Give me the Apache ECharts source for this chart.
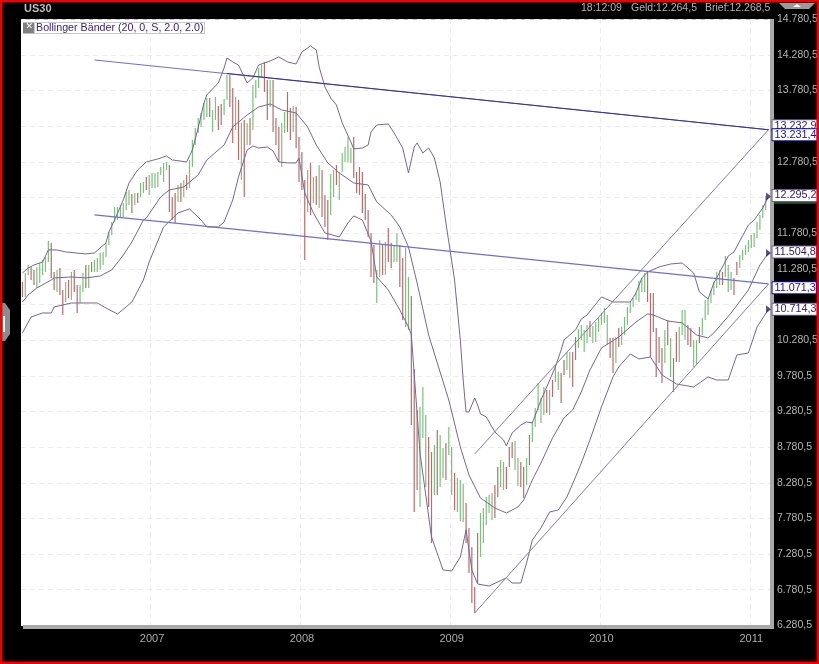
<!DOCTYPE html>
<html><head><meta charset="utf-8">
<style>html,body{margin:0;padding:0;background:#000}#c{width:819px;height:664px}</style>
<script src="https://cdn.jsdelivr.net/npm/echarts@6/dist/echarts.min.js"></script>
</head><body><div id="c"></div>
<script>
const barHigh=[11097,11223,11335,11307,11265,11307,11363,11405,11447,11672,11644,11237,11265,11293,10985,11097,11125,11237,11265,11055,
11055,11223,11335,11335,11377,11405,11433,11504,11518,11644,11798,11938,12149,12149,12177,12205,12359,12387,12331,12345,
12345,12485,12499,12570,12598,12626,12626,12640,12710,12766,12780,12738,12289,12345,12457,12485,12527,12598,12808,13088,
13257,13397,13467,13607,13678,13678,13509,13692,13565,13593,13664,14000,14000,13818,13692,13650,13327,13369,13327,13397,
13860,13930,14098,14140,14182,13930,13930,13930,13397,13271,13327,13481,13762,13537,13565,13551,13130,12920,12527,12668,
12766,12570,12584,12738,12668,12317,12247,12612,12668,12738,12640,12906,12990,13130,12976,13130,12640,12710,12640,12331,
12107,11784,11616,11265,11686,11616,11658,11854,11644,11616,11784,11616,11433,11574,11167,10901,9877,9302,9344,9624,
9232,8923,8713,8811,9021,8951,8769,8839,9063,8783,8418,8348,8320,8264,7997,7647,7380,6819,7577,7857,
7927,8081,8110,8138,8250,8502,8600,8572,8502,8783,8853,8867,8628,8572,8502,8628,8951,9133,9330,9680,
9470,9624,9582,9582,9722,9933,9835,9821,10003,10115,10115,10115,10325,10438,10494,10424,10494,10550,10480,10536,
10592,10662,10732,10634,10311,10311,10325,10452,10466,10606,10746,10816,10872,10943,11111,11153,11223,11237,10943,10943,
10452,10325,10171,10424,10564,10311,10031,10396,10466,10704,10704,10494,10452,10283,10283,10466,10592,10845,10872,10985,
11097,11237,11265,11237,11461,11335,11237,11153,11377,11475,11546,11616,11686,11756,11784,11938,12037,12177,12303];
const barLow=[10887,10887,11195,11125,11055,11013,11083,11195,11237,11377,11153,10985,10957,10915,10634,10816,10872,10845,10957,10662,
10802,10957,11013,11013,11237,11237,11237,11265,11335,11447,11616,11756,11938,11966,11994,12008,12107,12177,12065,12177,
12205,12289,12345,12387,12317,12415,12415,12429,12598,12499,12668,12079,11966,11925,12219,12219,12289,12387,12415,12710,
13018,13187,13271,13369,13411,13411,13201,13369,13229,13299,13439,13650,13551,13046,13229,12808,12527,12289,13018,13018,
13229,13678,13818,13958,13762,13369,13551,13201,13018,12780,12710,13187,13201,13088,13201,12976,12499,12387,11405,12079,
12037,12205,12177,12135,12008,11868,11686,12037,12289,12457,12247,12640,12780,12780,12766,12555,12345,12317,12065,11966,
11728,11167,11083,10802,11167,11195,11195,11377,11293,11377,11377,11027,10564,10466,10424,9091,7871,8180,7941,8909,
8222,7941,7436,8110,8110,8222,8348,8320,8670,8110,7899,7871,7745,7731,7436,7016,6595,6455,6876,7240,
7436,7689,7857,7759,7787,8081,8222,8180,8194,8502,8628,8460,8236,8222,8067,8250,8530,8853,9063,9302,
9119,9232,9260,9232,9484,9694,9582,9400,9792,9863,9751,9624,10003,10171,10283,10115,10241,10325,10241,10255,
10396,10494,10522,10213,10031,9821,9961,10185,10213,10354,10494,10662,10746,10845,10816,10957,10957,10816,10045,10396,
9765,9961,9681,9961,10213,9765,9554,9975,9975,10354,10283,10213,10185,9905,9933,10241,10354,10564,10634,10802,
10915,11013,11055,11055,11167,10957,10985,10915,11195,11293,11405,11475,11518,11574,11588,11714,11826,11994,12107];
const barTone=("dUUddUUUUUddUddUdUddUUdUdUUUUUUUUUUUUUdUdUUdUUUUUUUdddUdUdUUUUUUUdUUddUUddUdUdUdUUUUddUdddUUddUddddUdUdUdddUUdUUUUUdddddddd"+
"UUdUddUUddUUdddUUUddUdUUdUUdUUUddddd"+"UUUUUddUUdddUUddUdUUUUUdUdUUddUUddUUUUdUUUUUUddUdUUUUUUUUUddddddUdUddUUUddUUdUUUUUUUdUUUddUUUUUUUUUUUU").split("");
const upperBand=[[0,11223],[2,11293],[4,11335],[7,11377],[9,11546],[12,11546],[15,11518],[22,11490],[25,11504],[29,11644],[30,11798],[32,11966],[35,12247],[37,12485],[40,12668],[43,12780],[47,12822],[50,12864],[52,12808],[57,12780],[59,12948],[61,13257],[63,13607],[64,13720],[68,13888],[70,14098],[71,14238],[73,14182],[75,14140],[77,13972],[78,13888],[80,13958],[82,14140],[84,14168],[86,14196],[89,14253],[92,14182],[95,14154],[97,14323],[100,14407],[102,14351],[103,14112],[105,13832],[107,13678],[109,13579],[111,13327],[114,13060],[115,12962],[118,12976],[120,13018],[121,13201],[123,13299],[127,13313],[129,13187],[132,12976],[134,12626],[136,12990],[137,13046],[139,12906],[141,12976],[143,12836],[145,12499],[147,11925],[150,11125],[152,10283],[153,9722],[154,9274],[155,9274],[157,9470],[158,9372],[159,9246],[161,9204],[164,8993],[167,8881],[168,8797],[170,8979],[173,9091],[175,9133],[177,9119],[180,9442],[182,9624],[185,9905],[187,10143],[188,10283],[192,10424],[194,10578],[196,10634],[201,10887],[205,10816],[211,10816],[213,10943],[215,11153],[217,11237],[221,11307],[225,11349],[229,11363],[233,11223],[235,10957],[238,10858],[240,11083],[241,11153],[245,11461],[247,11518],[252,11896],[254,11966],[257,12135],[259,12295.2]];
const middleBand=[[0,10816],[2,10915],[5,11013],[10,11125],[11,11153],[17,11167],[22,11153],[27,11181],[31,11265],[35,11475],[38,11658],[42,11966],[43,11994],[48,12289],[51,12387],[56,12429],[61,12598],[64,12808],[70,13018],[73,13271],[78,13439],[82,13551],[86,13593],[90,13509],[95,13467],[99,13271],[102,13018],[106,12766],[110,12626],[115,12485],[120,12457],[123,12219],[128,12037],[131,11868],[134,11588],[137,11083],[141,10354],[144,9961],[148,9442],[152,8783],[155,8390],[159,8067],[161,8011],[164,7927],[168,7857],[172,7941],[174,8039],[177,8320],[180,8558],[184,8909],[188,9190],[191,9302],[194,9554],[197,9863],[201,10171],[207,10325],[213,10536],[217,10648],[219,10634],[224,10550],[229,10522],[234,10354],[238,10311],[240,10382],[246,10662],[252,10985],[256,11335],[259,11504.8]];
const lowerBand=[[0,10382],[3,10606],[7,10662],[10,10662],[11,10746],[17,10802],[26,10802],[29,10732],[33,10648],[36,10746],[38,10816],[42,11125],[44,11377],[49,11868],[54,12065],[58,12121],[62,11966],[64,11868],[68,11868],[70,11938],[73,12247],[75,12570],[78,12948],[80,13004],[82,12976],[85,12990],[87,12934],[89,12780],[92,12766],[95,12766],[96,12836],[98,12345],[101,12065],[105,11784],[110,11728],[113,11925],[115,12023],[118,11966],[121,11672],[123,11167],[127,10985],[131,10704],[134,10466],[135,10354],[138,8699],[142,7520],[146,7058],[149,7044],[152,7240],[154,7619],[156,7058],[158,6861],[162,6833],[168,6946],[170,6875],[173,6875],[175,7156],[177,7478],[180,7647],[183,7871],[186,7899],[189,8081],[192,8362],[194,8558],[197,8881],[201,9344],[205,9765],[207,9905],[211,10087],[214,10017],[218,10045],[222,9793],[227,9666],[233,9624],[238,9765],[241,9722],[245,9722],[248,10073],[252,10101],[255,10466],[259,10714.3]];
const resistanceLine=[[25,14210],[259,13231.4]];
const resistanceOverlay=[[71,14021],[259,13231.4]];
const supportLine=[[25,12037],[259,11071.3]];
const channelTop=[[157,8685],[259,13232.9]];
const channelBottom=[[157,6455],[259,11069]];
const priceTicks=[14780.5,14280.5,13780.5,13280.5,12780.5,12280.5,11780.5,11280.5,10780.5,10280.5,9780.5,9280.5,8780.5,8280.5,7780.5,7280.5,6780.5,6280.5];
const priceLabels=[14780.5,14280.5,13780.5,12780.5,11780.5,11280.5,10280.5,9780.5,9280.5,8780.5,8280.5,7780.5,7280.5,6780.5,6280.5];
const currentPriceTick=12205;
const firstWeek=Date.UTC(2006,1,26), weekCount=260;
const weeks=[];for(let i=0;i<weekCount;i++){weeks.push(new Date(firstWeek+i*7*864e5).toISOString().slice(0,10));}
const isYearStart=i=>i>0&&weeks[i].slice(0,4)!==weeks[i-1].slice(0,4);
const fmt=v=>{const s=v.toFixed(1).replace('.',',');return s.replace(/(\d)(\d{3}),/,'$1.$2,');};

const barRows=barHigh.map((h,i)=>[i,h,barLow[i],barTone[i]==='U'?1:0]);
const bandColor='#77688f';
function endBox(text,color,border,dy){return {show:true,formatter:text,distance:4,offset:[0,dy],color:color,fontFamily:'Liberation Sans',fontSize:10.8,backgroundColor:'#fff',borderColor:border,borderWidth:1,padding:[0,0,0,2],lineHeight:11};}
function lineSeries(name,data,color,width,z,label){return {name,type:'line',data,symbol:'none',smooth:false,z,animation:false,lineStyle:{color,width},silent:true,endLabel:label||{show:false}};}

const chart=echarts.init(document.getElementById('c'),null,{renderer:'canvas'});
chart.setOption({
 animation:false,backgroundColor:'#000',
 grid:{left:21,right:49,top:19.3,bottom:38.6,outerBoundsMode:'none',show:true,backgroundColor:'#fff',borderWidth:0},
 xAxis:{type:'category',data:weeks,boundaryGap:true,axisLine:{show:false},axisTick:{show:false},
  axisLabel:{interval:isYearStart,formatter:v=>v.slice(0,4),color:'#aaa',fontFamily:'Liberation Sans',fontSize:11,margin:8},
  splitLine:{show:true,interval:isYearStart,lineStyle:{color:'#ececec',type:[5,4],width:1}}},
 yAxis:{type:'value',position:'right',min:6280.5,max:14780.5,axisLine:{show:false},
  axisTick:{show:false,customValues:priceTicks},
  axisLabel:{customValues:priceLabels,formatter:fmt,color:'#b4b4b4',fontFamily:'Liberation Sans',fontSize:10.5,margin:7,verticalAlign:'middle'},
  splitLine:{show:true,lineStyle:{color:'#ececec',type:[5,4],width:1}}},
 series:[
  {type:'custom',data:barRows,encode:{x:0,y:[1,2]},z:3,silent:true,animation:false,
   renderItem:(p,api)=>{const a=api.coord([api.value(0),api.value(1)]),b=api.coord([api.value(0),api.value(2)]);
    return {type:'line',shape:{x1:a[0],y1:a[1],x2:b[0],y2:b[1]},style:{stroke:api.value(3)?'#7cc07c':'#b86c6c',lineWidth:1.2}};}},
  lineSeries('Obere Band',upperBand,bandColor,1,4,endBox('12.295,2','#30206a','#6e5f8e',-1)),
  lineSeries('Mittleres Band',middleBand,bandColor,1,4,endBox('11.504,8','#30206a','#6e5f8e',-1)),
  lineSeries('Unteres Band',lowerBand,bandColor,1,4,endBox('10.714,3','#30206a','#6e5f8e',0)),
  lineSeries('Kanal oben',channelTop,'#857da8',1,5,endBox('13.232,9','#30206a','#6e5f8e',-4)),
  lineSeries('Kanal unten',channelBottom,'#857da8',1,5),
  lineSeries('Widerstand',resistanceLine,'#7070cc',1,5),
  lineSeries('Widerstand 2',resistanceOverlay,'#34348c',1,6,endBox('13.231,4','#1414a0','#1010a0',5)),
  lineSeries('Unterstützung',supportLine,'#7070cc',1.2,6,endBox('11.071,3','#1414a0','#1010a0',4)),
  {type:'scatter',data:[[259,12295.2],[259,11504.8],[259,10714.3]],symbol:'triangle',symbolRotate:-90,symbolSize:[8,5],itemStyle:{color:'#2e2660'},z:7,silent:true,animation:false,clip:false},
  {type:'custom',data:[[259,currentPriceTick]],encode:{x:0,y:1},z:2,silent:true,animation:false,clip:false,
   renderItem:(p,api)=>{const a=api.coord([api.value(0),api.value(1)]);return {type:'line',shape:{x1:a[0]+5,y1:a[1],x2:a[0]+48,y2:a[1]},style:{stroke:'#3f9a4a',lineWidth:1}};}}
 ],
 graphic:[
  {type:'rect',z:1,shape:{x:770,y:19,width:4,height:610},style:{fill:'#a8a8a8'},silent:true},
  {type:'rect',z:1,shape:{x:23,y:625,width:751,height:4},style:{fill:'#a8a8a8'},silent:true},
  {type:'text',x:24,y:3,style:{text:'US30',fill:'#bdbdbd',font:'bold 11px "Liberation Sans"'}},
  {type:'text',x:581,y:3,style:{text:'18:12:09',fill:'#b4b4b4',font:'10.5px "Liberation Sans"'}},
  {type:'text',x:631,y:3,style:{text:'Geld:12.264,5',fill:'#b4b4b4',font:'10.5px "Liberation Sans"'}},
  {type:'text',x:705,y:3,style:{text:'Brief:12.268,5',fill:'#b4b4b4',font:'10.5px "Liberation Sans"'}},
  {type:'polygon',shape:{points:[[779,3],[815,3],[809,9],[785,9]]},style:{fill:'#9a9a9a'}},
  {type:'polygon',shape:{points:[[793,7],[797,4],[801,7]]},style:{fill:'#fff'}},
  {type:'polygon',shape:{points:[[2,303],[5,303],[10,310],[10,334],[5,341],[2,341]]},style:{fill:'#8c8c8c'}},
  {type:'rect',shape:{x:3,y:316,width:2,height:16},style:{fill:'#fff'}},
  {type:'rect',shape:{x:23,y:22.5,width:11,height:11},style:{fill:'#808080'}},
  {type:'text',x:25.5,y:22.5,style:{text:'✕',fill:'#fff',font:'bold 9px "DejaVu Sans"'}},
  {type:'rect',shape:{x:34.5,y:22.5,width:170,height:11},style:{fill:'#fff',stroke:'#c8c8c8',lineWidth:1}},
  {type:'text',x:36,y:22.5,style:{text:'Bollinger Bänder (20, 0, S, 2.0, 2.0)',fill:'#3c2478',font:'10.7px "Liberation Sans"'}},
  {type:'rect',shape:{x:1.2,y:1.2,width:816.6,height:661.6},style:{fill:'none',stroke:'#f00000',lineWidth:2.5},silent:true,z:100}
 ]
});
</script></body></html>
